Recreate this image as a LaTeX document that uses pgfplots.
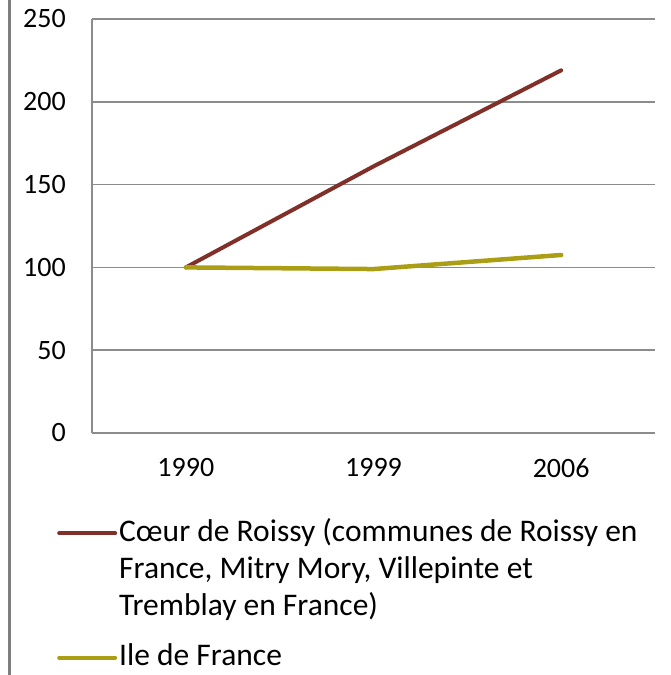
\documentclass[border=0pt]{standalone}
\usepackage{pgfplots}
\pgfplotsset{compat=1.18}
\usepackage{fontspec}
\setmainfont{Carlito}
\definecolor{roissy}{RGB}{128,48,40}
\definecolor{idf}{RGB}{172,158,20}
\definecolor{gridgray}{RGB}{140,140,140}
\begin{document}
\begin{tikzpicture}
\begin{axis}[
 width=563pt, height=414pt, scale only axis,
 xmin=-0.5, xmax=2.5, ymin=0, ymax=250,
 xtick={0,1,2}, xticklabels={1990,1999,2006},
 ytick={0,50,...,250},
 ymajorgrids, grid style={gridgray, line width=1.5pt},
 axis x line*=bottom, axis y line*=left,
 axis line style={gridgray, line width=1.5pt},
 major tick length=0pt,
 tick label style={font=\fontsize{28}{32}\selectfont, black},
 /pgf/number format/assume math mode=true,
 yticklabel style={anchor=east, inner sep=0pt, xshift=-26pt},
 xticklabel style={anchor=north, inner sep=0pt, yshift=-25pt},
 clip=false,
 legend style={at={(axis description cs:-0.0622,-0.2005)}, anchor=north west, draw=none, fill=none, inner sep=0pt, row sep=97pt, column sep=0pt, font=\fontsize{31.5}{37}\selectfont, cells={anchor=base west, inner sep=0pt}},
 legend image code/.code={\draw[#1, line width=4pt] (0pt,8pt) -- (56pt,8pt);},
]
\addplot[roissy, line width=4pt, line cap=round] coordinates {(0,100) (1,161) (2,219)};
\addlegendentry{\parbox[t]{560pt}{Cœur de Roissy (communes de Roissy en\\France, Mitry Mory, Villepinte et\\Tremblay en France)}}
\addplot[idf, line width=4.5pt, line cap=round] coordinates {(0,100) (1,99) (2,107.5)};
\addlegendentry{Ile de France}
\draw[gridgray!90!black, line width=3pt] (axis description cs:-0.14565,1.06) -- (axis description cs:-0.14565,-0.60);
\coordinate (BL) at (axis description cs:-0.163410,-0.584541);
\coordinate (TR) at (axis description cs:1.026643,1.045894);
\end{axis}
\pgfresetboundingbox
\useasboundingbox (BL) rectangle (TR);
\end{tikzpicture}
\end{document}
